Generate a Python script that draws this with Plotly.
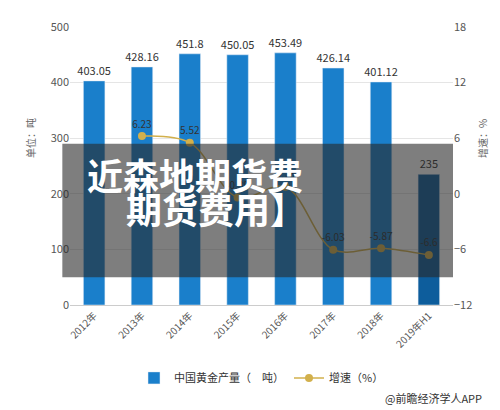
import plotly.graph_objects as go

years = ["2012年", "2013年", "2014年", "2015年", "2016年", "2017年", "2018年", "2019年H1"]
output = [403.05, 428.16, 451.8, 450.05, 453.49, 426.14, 401.12, 235]
growth = [None, 6.23, 5.52, -0.39, 0.76, -6.03, -5.87, -6.6]
growth_labels = ["", "6.23", "5.52", "-0.39", "0.76", "-6.03", "-5.87", "-6.6"]
bar_colors = ["#1a7fcb"] * 7 + ["#0d5d9c"]

fig = go.Figure()
fig.add_bar(x=years, y=output, name="中国黄金产量（　吨）", marker_color=bar_colors,
            text=[f"{v:g}" for v in output], textposition="outside", constraintext="none",
            textfont=dict(size=11, color="#333"), width=0.45, cliponaxis=False)
fig.add_scatter(x=years, y=growth, name="增速（%）", yaxis="y2", mode="lines+markers+text",
                line=dict(color="#d2b04c", width=1.5, shape="spline"),
                marker=dict(size=8, color="#d2b04c"),
                text=growth_labels, textposition="top center",
                textfont=dict(size=10, color="#333"))

# dark banner overlay with title text
fig.add_shape(type="rect", xref="paper", yref="paper", x0=-0.02, x1=1.0, y0=0.1, y1=0.58,
              fillcolor="rgba(40,40,40,0.6)", line_width=0, layer="above")
fig.add_annotation(xref="paper", yref="paper", x=0.04, y=0.47, xanchor="left",
                   text="<b>近森地期货费</b>", showarrow=False,
                   font=dict(size=36, color="white", family="Noto Sans CJK SC"))
fig.add_annotation(xref="paper", yref="paper", x=0.14, y=0.25, xanchor="left",
                   text="<b>期货费用】</b>", showarrow=False,
                   font=dict(size=36, color="white", family="Noto Sans CJK SC"))

fig.add_annotation(xref="paper", yref="paper", x=-0.13, y=0.6, text="单位：吨",
                   textangle=-90, showarrow=False, font=dict(size=10, color="#666"))
fig.add_annotation(xref="paper", yref="paper", x=1.1, y=0.6, text="增速：%",
                   textangle=-90, showarrow=False, font=dict(size=10, color="#666"))
fig.add_annotation(xref="paper", yref="paper", x=1.08, y=-0.37, xanchor="right",
                   text="@前瞻经济学人APP", showarrow=False, font=dict(size=11, color="#333"))

fig.update_layout(
    width=500, height=410, margin=dict(l=62, r=55, t=10, b=113),
    plot_bgcolor="white", paper_bgcolor="white",
    font=dict(family="Noto Sans CJK SC", size=11, color="#555"),
    showlegend=True,
    legend=dict(orientation="h", x=0.5, xanchor="center", y=-0.21, font=dict(size=11, color="#333")),
    xaxis=dict(tickangle=-45, showline=True, linecolor="#ccc", tickfont=dict(size=10)),
    yaxis=dict(range=[0, 500], dtick=100, gridcolor="#e5e5e5", zeroline=False),
    yaxis2=dict(range=[-12, 18], dtick=6, overlaying="y", side="right", showgrid=False, zeroline=False),
    bargap=0.5,
)
fig.write_html("out.html")
